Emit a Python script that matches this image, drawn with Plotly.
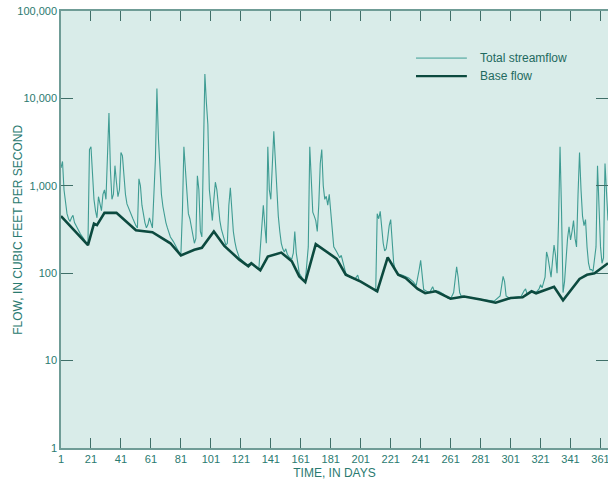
import plotly.graph_objects as go

# Total streamflow (day, cubic feet per second)
total_days = [
    1, 2, 3, 4, 5, 6, 7, 8, 9, 10, 12, 14, 16, 18, 19, 20, 21, 22, 23, 24, 25, 26, 27, 28, 29, 30,
    31, 32, 33, 34, 35, 36, 37, 38, 39, 40, 41, 42, 43, 44, 45, 47, 49, 51, 52, 53, 54, 55, 56, 57,
    58, 59, 60, 61, 62, 64, 65, 66, 67, 68, 69, 70, 71, 72, 73, 74, 76, 78, 80, 81, 82, 83, 84, 85,
    86, 87, 88, 89, 90, 91, 92, 93, 94, 95, 96, 97, 98, 99, 100, 101, 102, 103, 104, 105, 106, 107,
    108, 109, 110, 111, 112, 113, 114, 115, 116, 117, 118, 120, 122, 125, 128, 130, 133, 135, 136,
    137, 138, 139, 140, 141, 142, 143, 144, 145, 146, 147, 148, 149, 150, 151, 152, 153, 155, 156,
    157, 158, 159, 160, 162, 164, 166, 167, 168, 169, 170, 171, 172, 173, 174, 175, 176, 177, 178,
    179, 180, 181, 182, 183, 185, 187, 188, 189, 191, 194, 197, 199, 200, 202, 205, 208, 210, 211,
    212, 213, 214, 215, 216, 217, 218, 219, 220, 221, 222, 223, 224, 226, 229, 231, 233, 236, 238,
    240, 241, 242, 243, 245, 247, 249, 250, 253, 256, 259, 261, 263, 264, 265, 266, 267, 268, 270,
    274, 278, 282, 286, 290, 294, 295, 296, 297, 298, 300, 304, 308, 310, 311, 312, 316, 318, 320,
    321, 322, 324, 325, 326, 327, 328, 329, 330, 331, 332, 333, 334, 335, 336, 337, 338, 339, 340,
    341, 342, 343, 344, 345, 346, 347, 348, 349, 350, 351, 352, 353, 354, 355, 356, 358, 359, 360,
    361, 362, 363, 364, 365, 366,
]
total_flow = [
    1600, 1900, 900, 600, 480, 420, 390, 430, 460, 380, 320, 280, 250, 220, 230, 2600, 2800, 1200,
    700, 520, 430, 750, 600, 520, 800, 900, 700, 2000, 6800, 1500, 700, 800, 1700, 1100, 750, 900,
    2400, 2200, 1200, 800, 620, 500, 420, 350, 330, 1200, 1000, 600, 450, 380, 330, 360, 430, 380,
    330, 2000, 13000, 3500, 1400, 800, 580, 450, 380, 330, 300, 260, 230, 200, 170, 165, 500, 2800,
    1400, 700, 480, 420, 330, 260, 220, 250, 1300, 900, 300, 260, 3000, 19000, 9000, 5000, 900, 550,
    400, 700, 1100, 900, 550, 400, 320, 280, 230, 210, 220, 600, 950, 500, 300, 230, 190, 150, 140,
    125, 130, 120, 110, 300, 600, 350, 220, 2800, 900, 700, 1800, 4200, 2000, 800, 450, 300, 220,
    190, 175, 190, 165, 155, 145, 170, 300, 170, 120, 100, 88, 80, 200, 2800, 1200, 500, 450, 400,
    300, 600, 1800, 2600, 1000, 700, 760, 600, 800, 500, 260, 200, 175, 150, 160, 135, 100, 90, 85,
    95, 82, 78, 72, 68, 65, 62, 480, 420, 510, 300, 220, 180, 190, 250, 350, 410, 200, 130, 110, 98,
    95, 92, 88, 80, 72, 110, 140, 95, 65, 62, 60, 70, 63, 62, 58, 52, 51, 60, 80, 118, 90, 60, 55,
    54, 53, 51, 50, 49, 48, 55, 70, 92, 80, 55, 52, 53, 54, 63, 66, 58, 62, 60, 66, 74, 68, 90, 175,
    150, 110, 90, 140, 210, 160, 100, 400, 2800, 500, 60, 80, 150, 250, 340, 240, 300, 400, 250,
    200, 800, 2400, 900, 450, 350, 410, 200, 130, 110, 110, 105, 200, 1700, 500, 200, 130, 150, 1800,
    700, 400,
]

# Base flow (day, cubic feet per second)
base_days = [
    1, 19, 23, 25, 30, 38, 51, 62, 74, 81, 90, 95, 103, 110, 120, 126, 128, 134, 139, 148, 155, 160,
    164, 171, 185, 191, 201, 212, 219, 226, 231, 239, 244, 251, 261, 270, 281, 291, 301, 309, 315,
    318, 330, 336, 347, 352, 357, 366,
]
base_flow = [
    450, 210, 370, 355, 490, 490, 310, 295, 220, 160, 185, 195, 300, 205, 143, 120, 130, 108, 155,
    172, 137, 92, 79, 215, 146, 96, 80, 62, 152, 96, 88, 66, 59, 62, 51, 54, 50, 46, 52, 53, 62, 59,
    70, 49, 86, 96, 100, 130,
]

x_ticks = list(range(1, 362, 20))
y_ticks = [1, 10, 100, 1000, 10000, 100000]
y_labels = ['1', '10', '100', '1,000', '10,000', '100,000']

TEAL = '#3f9c93'
DARK = '#0c4a3f'
LABEL = '#2a7a70'
BG = '#d9ece9'

fig = go.Figure()
fig.add_trace(go.Scatter(x=total_days, y=total_flow, mode='lines', name='Total streamflow',
                         line=dict(color=TEAL, width=1.1)))
fig.add_trace(go.Scatter(x=base_days, y=base_flow, mode='lines', name='Base flow',
                         line=dict(color=DARK, width=2.6)))

# legend drawn by hand so the sample lines are as long as in the original
legend_items = [('Total streamflow', '#7fbfb8', 1.8, 0.892), ('Base flow', DARK, 2.4, 0.851)]
for label, color, width, yy in legend_items:
    fig.add_shape(type='line', xref='paper', yref='paper', x0=0.649, x1=0.742, y0=yy, y1=yy,
                  line=dict(color=color, width=width))
    fig.add_annotation(text=label, xref='paper', yref='paper', x=0.762, y=yy, xanchor='left',
                       yanchor='middle', showarrow=False,
                       font=dict(family='Liberation Sans, Arial', size=12, color='#1f6a60'))

# y title as an annotation so it sits where the original has it
fig.add_annotation(text='FLOW, IN CUBIC FEET PER SECOND', xref='paper', yref='paper',
                   x=-0.08, y=0.5, textangle=-90, showarrow=False,
                   xanchor='center', yanchor='middle',
                   font=dict(family='Liberation Sans, Arial', size=12, color=LABEL))

fig.update_layout(
    width=608, height=483,
    margin=dict(l=61, r=0, t=11, b=35),
    paper_bgcolor='white',
    plot_bgcolor=BG,
    showlegend=False,
    font=dict(family='Liberation Sans, Arial', color=LABEL),
)
fig.update_xaxes(
    range=[1, 366], tickvals=x_ticks, ticks='inside', ticklen=10, tickcolor='#3f6f68',
    tickwidth=1, mirror='ticks', showline=True, linecolor='#6f9c96', linewidth=1.5,
    showgrid=False, zeroline=False, tickfont=dict(size=11, color=LABEL),
    automargin=False, ticklabeloverflow='allow',
    title=dict(text='TIME, IN DAYS', font=dict(size=12, color=LABEL), standoff=5),
)
fig.update_yaxes(
    type='log', range=[0, 5], tickvals=y_ticks, ticktext=y_labels, ticks='inside', ticklen=12,
    tickcolor='#3f6f68', tickwidth=1, mirror='ticks', showline=True, linecolor='#6f9c96',
    linewidth=1.5, showgrid=False, zeroline=False, tickfont=dict(size=11, color=LABEL),
    automargin=False, ticklabeloverflow='allow',
)
# drop the browser's default 8 px body margin so the figure fills the window exactly
fig.write_html("out.html", config={'displayModeBar': False},
               post_script="document.body.style.margin = '0';")
